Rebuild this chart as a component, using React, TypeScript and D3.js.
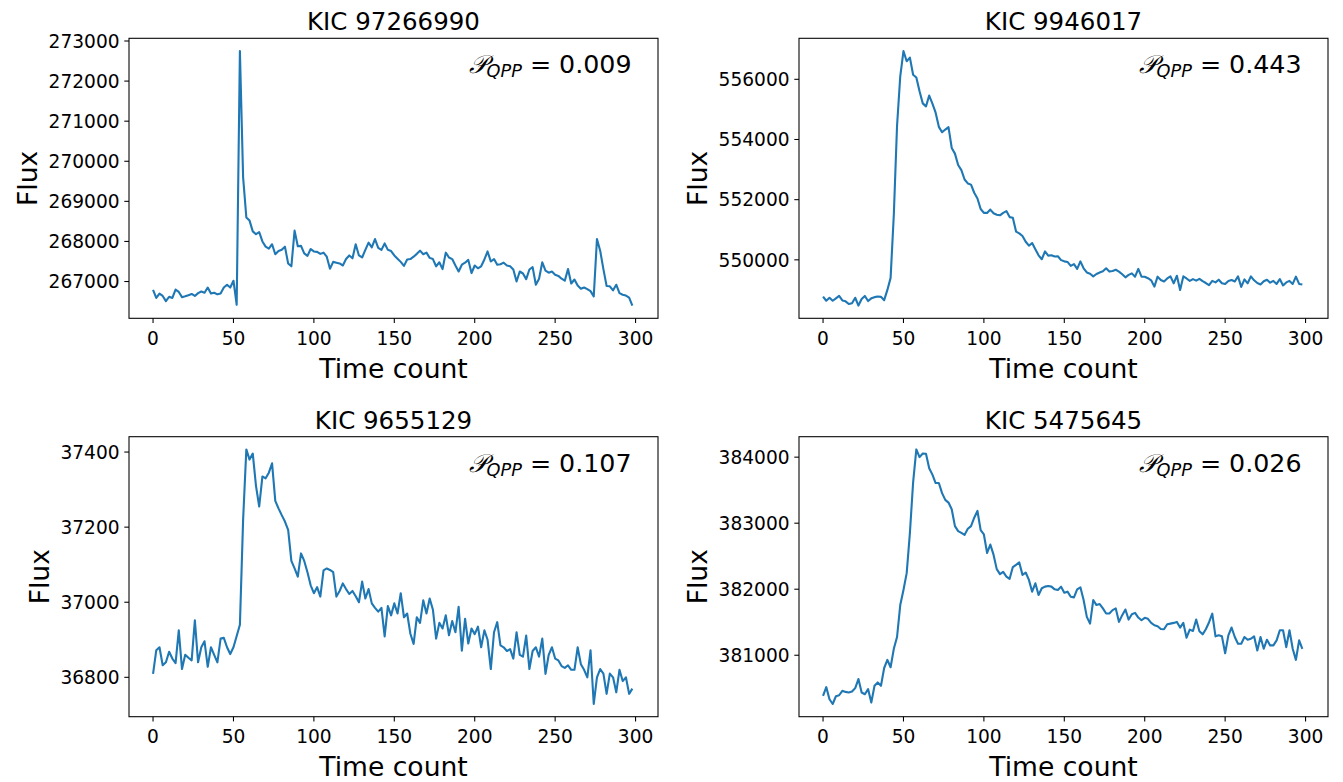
import React from 'react';
import * as d3 from 'd3';

// ---- data (flux sampled every TIME_STEP time counts) ----
const TIME_STEP = 2;
const TIME_MAX = 299;
const xTicks = [0, 50, 100, 150, 200, 250, 300];

const titles = ['KIC 97266990', 'KIC 9946017', 'KIC 9655129', 'KIC 5475645'];
const pqppValues = ['0.009', '0.443', '0.107', '0.026'];

const yTicks97266990 = [267000, 268000, 269000, 270000, 271000, 272000, 273000];
const yTicks9946017 = [550000, 552000, 554000, 556000];
const yTicks9655129 = [36800, 37000, 37200, 37400];
const yTicks5475645 = [381000, 382000, 383000, 384000];

const flux97266990 = [
  266790, 266590, 266700, 266640, 266510, 266620, 266590, 266800, 266740, 266610,
  266630, 266660, 266690, 266640, 266710, 266750, 266720, 266850, 266700, 266720,
  266680, 266700, 266850, 266920, 266850, 267020, 266420, 272750, 269600, 268600,
  268520, 268250, 268180, 268230, 268000, 267870, 267820, 267930, 267680, 267760,
  267790, 267870, 267450, 267380, 268270, 267880, 267890, 267700, 267640, 267810,
  267750, 267740, 267690, 267720, 267620, 267320, 267490, 267470, 267450, 267400,
  267560, 267650, 267580, 267930, 267650, 267600, 267790, 267970, 267850, 268060,
  267840, 267790, 267950, 267790, 267760, 267650, 267570, 267490, 267390, 267550,
  267560, 267620, 267690, 267770, 267680, 267720, 267590, 267560, 267380, 267480,
  267310, 267720, 267600, 267560, 267400, 267250, 267420, 267470, 267540, 267210,
  267400, 267330, 267380, 267550, 267750, 267500, 267560, 267420, 267430, 267470,
  267400, 267380, 267300, 267000, 267250, 267200, 267060, 267300, 267360, 266920,
  267070, 267480, 267270, 267220, 267250, 267170, 267140, 267070, 267020, 267310,
  266950, 267050, 266900, 266820, 266850, 266810, 266760, 266630, 268060, 267770,
  267310, 266890, 266880, 266780, 266920, 266710, 266670, 266650, 266600, 266400,
];

const flux9946017 = [
  548780, 548640, 548740, 548640, 548720, 548800, 548650, 548620, 548530, 548560,
  548740, 548480, 548700, 548800, 548630, 548720, 548760, 548780, 548770, 548660,
  549000, 549400, 551500, 554450, 556100, 556940, 556600, 556720, 556150, 556060,
  555600, 555200, 555100, 555460, 555190, 554890, 554420, 554240, 554330, 554410,
  553720, 553530, 553150, 552980, 552670, 552540, 552500, 552230, 552040, 551690,
  551560, 551560, 551670, 551550, 551500, 551480, 551560, 551620, 551420, 551400,
  550940, 550880, 550790, 550600, 550470, 550560, 550350, 550150, 550020, 550280,
  550140, 550150, 550110, 550120, 549990, 549950, 549930, 549800, 549860, 549700,
  549950, 549720, 549580, 549540, 549450, 549530, 549580, 549620, 549720, 549610,
  549630, 549670, 549610, 549520, 549420, 549500, 549550, 549440, 549700, 549440,
  549440, 549390, 549320, 549110, 549440, 549330, 549280, 549380, 549450, 549220,
  549470, 549000, 549450, 549380, 549300, 549360, 549310, 549370, 549290, 549230,
  549160, 549300, 549250, 549340, 549220, 549200, 549300, 549330, 549280, 549450,
  549100, 549350, 549220, 549450, 549320, 549230, 549180, 549290, 549340, 549240,
  549300, 549200, 549360, 549150, 549250, 549300, 549200, 549440, 549200, 549180,
];

const flux9655129 = [
  36809, 36872, 36880, 36832, 36840, 36868, 36850, 36838, 36925, 36822,
  36860, 36852, 36845, 36952, 36840, 36880, 36896, 36828, 36880, 36860,
  36840, 36903, 36905, 36880, 36862, 36880, 36910, 36940, 37220, 37407,
  37380, 37396, 37310, 37255, 37335, 37330, 37345, 37370, 37270, 37250,
  37232, 37215, 37193, 37110, 37090, 37068, 37130, 37110, 37080, 37045,
  37024, 37040, 37015, 37085, 37090, 37086, 37080, 37015, 37030, 37050,
  37035, 37022, 37030, 37016, 37000, 37055, 37010, 37035, 36997, 36985,
  36975, 36985, 36909, 36990, 36965, 36997, 36970, 37024, 36960, 36970,
  36916, 36889, 36960, 36945, 37005, 36970, 37010, 36980, 36903, 36945,
  36930, 36965, 36912, 36950, 36920, 36988, 36871, 36956, 36890, 36930,
  36915, 36935, 36880, 36925, 36900, 36822, 36920, 36947, 36885, 36880,
  36870, 36875, 36850, 36920, 36860, 36855, 36911, 36822, 36870, 36880,
  36855, 36903, 36809, 36860, 36880, 36850, 36845, 36830, 36825, 36832,
  36820, 36820, 36880, 36835, 36820, 36800, 36872, 36729, 36800, 36822,
  36810, 36756, 36810, 36800, 36760, 36820, 36790, 36800, 36756, 36770,
];

const flux5475645 = [
  380384, 380517, 380334, 380262, 380379, 380394, 380461, 380445, 380436, 380450,
  380502, 380639, 380436, 380410, 380487, 380283, 380537, 380588, 380537, 380807,
  380929, 380818, 381097, 381276, 381760, 381989, 382243, 382854, 383618, 384117,
  384000, 384055, 384050, 383832, 383735, 383608, 383608, 383455, 383353, 383312,
  383211, 382956, 382880, 382854, 382823, 382915, 382956, 383083, 383185, 382895,
  382829, 382549, 382676, 382523, 382304, 382228, 382263, 382192, 382157, 382335,
  382370, 382406, 382217, 382253, 382141, 381963, 382090, 381912, 382014, 382039,
  382049, 382039, 381998, 381988, 382039, 381947, 381963, 381886, 381876, 381998,
  382029, 381836, 381581, 381479, 381836, 381760, 381775, 381709, 381632, 381632,
  381683, 381709, 381505, 381607, 381693, 381540, 381622, 381642, 381571, 381530,
  381566, 381551, 381490, 381454, 381439, 381398, 381393, 381469, 381479, 381490,
  381505, 381419, 381490, 381266, 381388, 381368, 381540, 381363, 381317, 381393,
  381500, 381630, 381286, 381302, 381286, 381030, 381300, 381420, 381276, 381174,
  381174, 381276, 381235, 381250, 381286, 381072, 381276, 381098, 381235, 381149,
  381149, 381225, 381378, 381378, 381123, 381378, 381098, 380930, 381225, 381098,
];

const seriesValues = [flux97266990, flux9946017, flux9655129, flux5475645];
const seriesYTicks = [yTicks97266990, yTicks9946017, yTicks9655129, yTicks5475645];

// ---- layout / style ----
const W = 1343;
const H = 782;
const FONT = "'DejaVu Sans', sans-serif";
const LINE_COLOR = '#1f77b4';
const TICK_FS = 18.6;
const TITLE_FS = 24.5;
const LABEL_FS = 26.6;
const ANNOT_FS = 25.3;
const TICK_LEN = 4.7;
const TICK_PAD = 4.7;

const boxes = [
  { left: 129, right: 658, top: 38.3, bottom: 318.3 },
  { left: 799, right: 1328, top: 38.3, bottom: 318.3 },
  { left: 129, right: 658, top: 436.7, bottom: 716.7 },
  { left: 799, right: 1328, top: 436.7, bottom: 716.7 },
];

function Panel({ idx }: { idx: number }) {
  const b = boxes[idx];
  const values = seriesValues[idx];
  const yTicks = seriesYTicks[idx];
  const pts: [number, number][] = values.map((v, i) => [i * TIME_STEP, v]);

  const xPad = TIME_MAX * 0.05;
  const x = d3.scaleLinear().domain([-xPad, TIME_MAX + xPad]).range([b.left, b.right]);
  const [ymin, ymax] = d3.extent(values) as [number, number];
  const yPad = (ymax - ymin) * 0.05;
  const y = d3.scaleLinear().domain([ymin - yPad, ymax + yPad]).range([b.bottom, b.top]);

  const line = d3.line<[number, number]>().x((d) => x(d[0])).y((d) => y(d[1]));

  const maxLabelW = d3.max(yTicks, (t) => String(t).length)! * 0.636 * TICK_FS;
  const yLabelX = b.left - TICK_LEN - TICK_PAD - maxLabelW - 5.3 - 0.236 * LABEL_FS;
  const xTickBaseline = b.bottom + TICK_LEN + TICK_PAD + 0.76 * TICK_FS + 3;
  const xLabelBaseline = b.bottom + TICK_LEN + TICK_PAD + 0.996 * TICK_FS + 5.3 + 0.76 * LABEL_FS + 6;
  const cx = (b.left + b.right) / 2;
  const cy = (b.top + b.bottom) / 2;
  const annX = b.left + 0.95 * (b.right - b.left);
  const annY = b.top + 35;

  return (
    <g>
      <path d={line(pts) || ''} fill="none" stroke={LINE_COLOR} strokeWidth={2.1} strokeLinejoin="round" />
      <rect x={b.left} y={b.top} width={b.right - b.left} height={b.bottom - b.top} fill="none" stroke="#000" strokeWidth={1.07} />
      {xTicks.map((t) => (
        <g key={'x' + t}>
          <line x1={x(t)} x2={x(t)} y1={b.bottom} y2={b.bottom + TICK_LEN} stroke="#000" strokeWidth={1.07} />
          <text x={x(t)} y={xTickBaseline} textAnchor="middle" fontSize={TICK_FS} fontFamily={FONT} fill="#000">
            {String(t)}
          </text>
        </g>
      ))}
      {yTicks.map((t) => (
        <g key={'y' + t}>
          <line x1={b.left - TICK_LEN} x2={b.left} y1={y(t)} y2={y(t)} stroke="#000" strokeWidth={1.07} />
          <text x={b.left - TICK_LEN - TICK_PAD} y={y(t) + 0.36 * TICK_FS} textAnchor="end" fontSize={TICK_FS} fontFamily={FONT} fill="#000">
            {String(t)}
          </text>
        </g>
      ))}
      <text x={cx} y={b.top - 8} textAnchor="middle" fontSize={TITLE_FS} fontFamily={FONT} fill="#000">
        {titles[idx]}
      </text>
      <text x={cx} y={xLabelBaseline} textAnchor="middle" fontSize={LABEL_FS} fontFamily={FONT} fill="#000">
        Time count
      </text>
      <text transform={`translate(${yLabelX},${cy}) rotate(-90)`} textAnchor="middle" fontSize={LABEL_FS} fontFamily={FONT} fill="#000">
        Flux
      </text>
      <text x={annX} y={annY} textAnchor="end" fontSize={ANNOT_FS} fontFamily={FONT} fill="#000">
        <tspan fontFamily="'DejaVu Serif', serif" fontStyle="italic">{'\u{1D4AB}'}</tspan>
        <tspan fontSize={ANNOT_FS * 0.7} fontStyle="italic" dy={4}>QPP</tspan>
        <tspan dy={-4}>{' = ' + pqppValues[idx]}</tspan>
      </text>
    </g>
  );
}

export default function App() {
  return (
    <div style={{ position: 'absolute', left: 0, top: 0 }}>
      <svg width={W} height={H} viewBox={`0 0 ${W} ${H}`} style={{ display: 'block', background: '#fff' }}>
        <rect x={0} y={0} width={W} height={H} fill="#fff" />
        {[0, 1, 2, 3].map((i) => (
          <Panel key={i} idx={i} />
        ))}
      </svg>
    </div>
  );
}
